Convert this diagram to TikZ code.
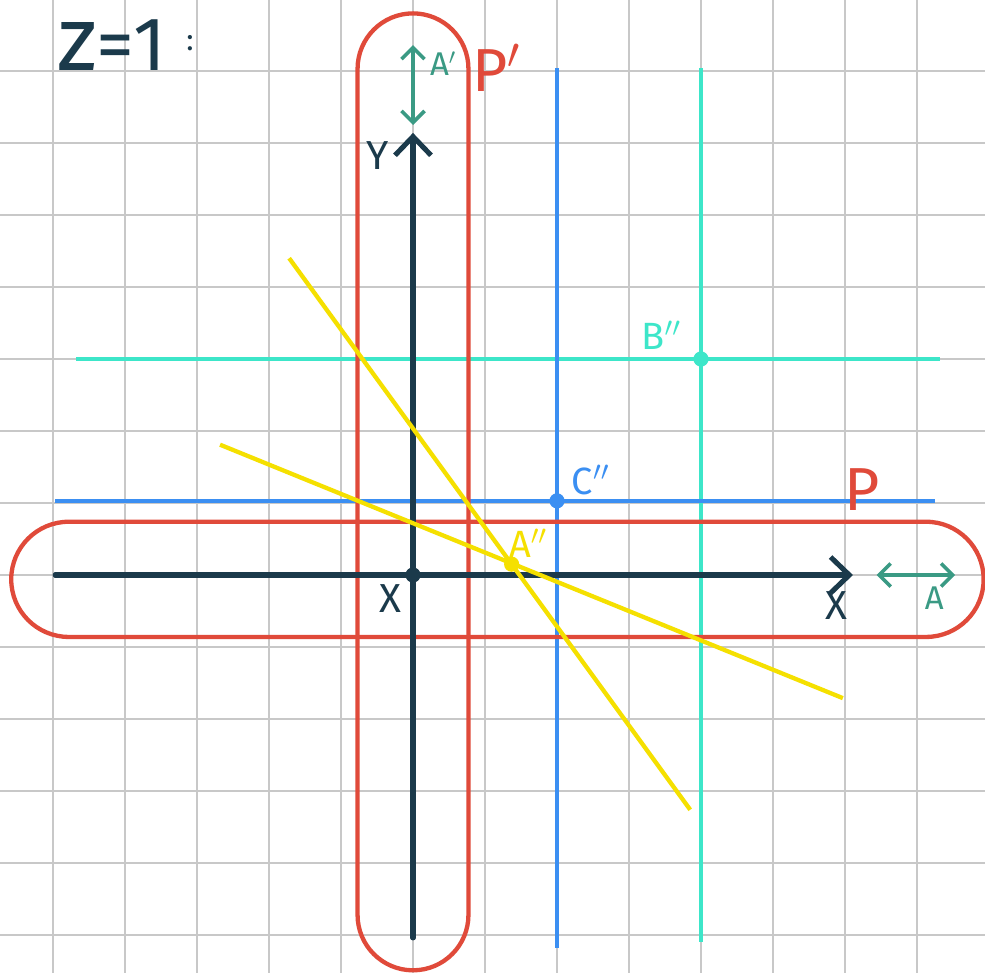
\documentclass[tikz,border=0pt]{standalone}
\usepackage{fontspec}
\setmainfont{Fira Sans}
\usetikzlibrary{arrows.meta}
\definecolor{navy}{HTML}{1B3A4B}
\definecolor{redc}{HTML}{E04A3A}
\definecolor{tealarr}{HTML}{3A9A84}
\definecolor{turq}{HTML}{3DE6C9}
\definecolor{bluec}{HTML}{3B8FF2}
\definecolor{yel}{HTML}{F5E000}
\definecolor{gridc}{HTML}{C8C8C8}
\tikzset{
  gridline/.style={draw=gridc, line width=0.6pt},
  stadium/.style={draw=redc, line width=1.7pt},
  axisline/.style={draw=navy, line width=2pt, line cap=round},
  axtip/.style={-{Straight Barb[length=2.6mm,width=5mm,line width=2pt]}},
  dblarrow/.style={draw=tealarr, line width=1.4pt, {Straight Barb[length=1.6mm,width=3.2mm]}-{Straight Barb[length=1.6mm,width=3.2mm]}},
  turqline/.style={draw=turq, line width=1.7pt},
  blueline/.style={draw=bluec, line width=1.7pt},
  yelline/.style={draw=yel, line width=1.7pt},
  lbl/.style={inner sep=0pt, font=\fontsize{13}{13}\selectfont},
  dotnode/.style={circle, inner sep=0pt, minimum size=#1}
}
\begin{document}
\begin{tikzpicture}
\useasboundingbox[fill=white] (-5.736,-5.514) rectangle (7.944,7.986);
% grid
\begin{scope}
\clip (-5.736,-5.514) rectangle (7.944,7.986);
\foreach \i in {-6,...,8} {
  \draw[gridline] (\i,-6) -- (\i,9);
  \draw[gridline] (-6,\i) -- (9,\i);
}
\end{scope}
% turquoise lines (B'')
\coordinate (bh1) at (-4.68,3);
\coordinate (bh2) at (7.32,3);
\coordinate (bv1) at (4,7.04);
\coordinate (bv2) at (4,-5.10);
\draw[turqline] (bh1) -- (bh2);
\draw[turqline] (bv1) -- (bv2);
\node[dotnode=6pt, fill=turq] (B) at (4,3) {};
\node[lbl, text=turq, font=\fontsize{15}{15}\selectfont] (Blbl) at (3.45,3.33) {B$''$};
% blue lines (C'')
\coordinate (ch1) at (-4.97,1.03);
\coordinate (ch2) at (7.25,1.03);
\coordinate (cv1) at (2,7.04);
\coordinate (cv2) at (2,-5.18);
\draw[blueline] (ch1) -- (ch2);
\draw[blueline] (cv1) -- (cv2);
\node[dotnode=6pt, fill=bluec] (C) at (2,1.03) {};
\node[lbl, text=bluec, font=\fontsize{15}{15}\selectfont] (Clbl) at (2.47,1.32) {C$''$};
% red stadiums
\draw[stadium] (-4.78,0.74) -- (7.125,0.74) arc (90:-90:0.8) -- (-4.78,-0.86) arc (270:90:0.8) -- cycle;
\draw[stadium] (-0.77,-4.72) -- (-0.77,7.03) arc (180:0:0.77) -- (0.77,-4.72) arc (0:-180:0.77) -- cycle;
\node[lbl, text=redc, font=\fontsize{24}{24}\selectfont] (P) at (6.24,1.18) {P};
\node[lbl, text=redc, font=\fontsize{24}{24}\selectfont] (Pp) at (1.16,7.04) {P$'$};
% axes
\coordinate (O) at (0,0);
\coordinate (xl) at (-4.97,0);
\coordinate (xr) at (6.11,0);
\coordinate (yb) at (0,-5.04);
\coordinate (yt) at (0,6.14);
\draw[axisline, axtip] (xl) -- (xr);
\draw[axisline, axtip] (yb) -- (yt);
\node[dotnode=6pt, fill=navy] (Odot) at (O) {};
\node[lbl, text=navy, font=\fontsize{16}{16}\selectfont] (Ylbl) at (-0.49,5.83) {Y};
\node[lbl, text=navy, font=\fontsize{16}{16}\selectfont] (Xlbl1) at (-0.32,-0.33) {X};
\node[lbl, text=navy, font=\fontsize{16}{16}\selectfont] (Xlbl2) at (5.88,-0.42) {X};
% teal double arrows
\coordinate (a1) at (6.44,0);
\coordinate (a2) at (7.53,0);
\draw[dblarrow] (a1) -- (a2);
\node[lbl, text=tealarr] (Albl) at (7.24,-0.32) {A};
\coordinate (ap1) at (0,7.36);
\coordinate (ap2) at (0,6.25);
\draw[dblarrow] (ap1) -- (ap2);
\node[lbl, text=tealarr] (Aplbl) at (0.42,7.1) {A$'$};
% yellow lines
\coordinate (y1a) at (-1.72,4.40);
\coordinate (y1b) at (3.85,-3.26);
\coordinate (y2a) at (-2.68,1.81);
\coordinate (y2b) at (5.97,-1.71);
\draw[yelline] (y1a) -- (y1b);
\draw[yelline] (y2a) -- (y2b);
\node[dotnode=6pt, fill=yel] (App) at (1.37,0.15) {};
\node[lbl, text=yel, font=\fontsize{15}{15}\selectfont] (Applbl) at (1.6,0.44) {A$''$};
% title
\node[lbl, text=navy, font=\fontsize{30}{30}\selectfont, anchor=west] (title) at (-4.95,7.36) {{\fontsize{36}{36}\selectfont\addfontfeature{FakeBold=-0.3}z}=1 \raisebox{0.5ex}{\fontsize{12}{12}\selectfont:}};
\end{tikzpicture}
\end{document}
